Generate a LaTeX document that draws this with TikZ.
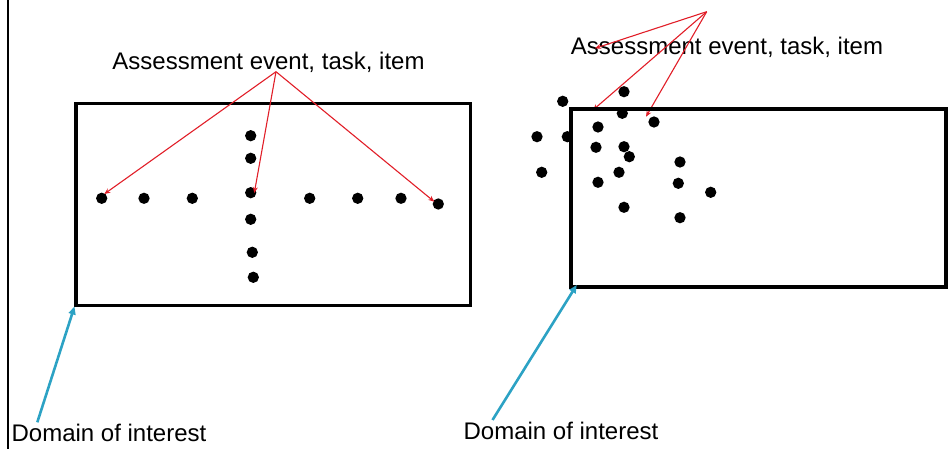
\documentclass[tikz,border=0pt]{standalone}
\usepackage{fontspec}
\setmainfont{Liberation Sans}
\usetikzlibrary{arrows.meta}
\definecolor{redarrow}{RGB}{225,30,40}
\definecolor{bluearrow}{RGB}{44,162,196}
\begin{document}
\begin{tikzpicture}[x=1pt,y=-1pt,
  dot/.style={circle,fill=black,inner sep=0pt,minimum size=11.3pt},
  lbl/.style={font=\fontsize{24}{28}\selectfont,inner sep=0pt,anchor=base},
  framebox/.style={draw=black,inner sep=0pt},
  redarr/.style={draw=redarrow,line width=1.1pt,-{Stealth[length=6pt,width=5pt]}},
  bluearr/.style={draw=bluearrow,line width=2.6pt,-{Triangle[length=8pt,width=7pt]}}]
\useasboundingbox (0,0) rectangle (951,449);
% left divider
\coordinate (vtop) at (8,0);
\coordinate (vbot) at (8,449);
\draw[line width=2.4pt] (vtop) -- (vbot);

% ---------- left panel ----------
\node[framebox,line width=3.2pt,minimum width=394.7pt,minimum height=202pt] (lrect) at (273.3,204.7) {};
\node[lbl] (ltxt) at (268.5,69.5) {Assessment event, task, item};
\node[lbl] (ldom) at (109,441.5) {Domain of interest};
\foreach \n/\x/\y in {r1/101.7/198.3, r2/144/198.3, r3/192.3/198.3, r4/250.7/192.7,
    r5/309.7/198.3, r6/357.7/198.3, r7/401/198.3, r8/438.3/204,
    c1/250.7/135.7, c2/250.7/158.3, c3/250.7/219.3, c4/252.3/252.3, c5/253.3/277.3}
  \node[dot] (\n) at (\x,\y) {};
\coordinate (lsrc) at (276,71.7);
\coordinate (lt1) at (104.3,194);
\coordinate (lt2) at (254.3,193);
\coordinate (lt3) at (434.3,201.7);
\draw[redarr] (lsrc) -- (lt1);
\draw[redarr] (lsrc) -- (lt2);
\draw[redarr] (lsrc) -- (lt3);
\coordinate (lbs) at (37.3,422.3);
\coordinate (lbe) at (74.5,306.5);
\draw[bluearr] (lbs) -- (lbe);

% ---------- right panel ----------
\foreach \n/\x/\y in {s1/624/91.7, s2/562.7/101.3, s3/622.3/113.3, s4/654/122,
    s5/598/127, s6/537/136.7, s7/567.3/136.7, s8/596/147.3, s9/624/146.7,
    s10/629.3/156.7, s11/680/162, s12/541.7/172.3, s13/619/172.3, s14/598/182.3,
    s15/678.3/183.3, s16/710.7/192.3, s17/624/207.3, s18/680/217.7}
  \node[dot] (\n) at (\x,\y) {};
\node[lbl] (rtxt) at (727,55) {Assessment event, task, item};
\node[lbl] (rdom) at (561,439) {Domain of interest};
\coordinate (rsrc) at (706.7,11.7);
\coordinate (rt1) at (595,48.3);
\coordinate (rt2) at (593,110);
\coordinate (rt3) at (646,116.7);
\draw[redarr] (rsrc) -- (rt1);
\draw[redarr] (rsrc) -- (rt2);
\draw[redarr] (rsrc) -- (rt3);
\node[framebox,line width=4.5pt,minimum width=375pt,minimum height=178.4pt] (rrect) at (758.3,198) {};
\coordinate (rbs) at (492.5,420);
\coordinate (rbe) at (576.7,285);
\draw[bluearr] (rbs) -- (rbe);
\end{tikzpicture}
\end{document}
